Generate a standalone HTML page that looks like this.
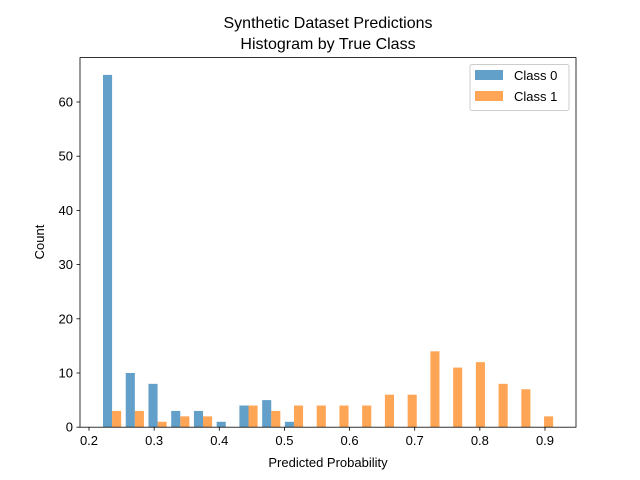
<!DOCTYPE html>
<html><head><meta charset="utf-8"><style>
body{margin:0;background:#fff;}
svg{display:block;font-family:"Liberation Sans","DejaVu Sans",sans-serif;}
</style></head><body>
<svg id="chart" width="640" height="480" viewBox="0 0 640 480">
<rect width="640" height="480" fill="#fff"/>
<text x="328" y="28" text-anchor="middle" font-size="16">Synthetic Dataset Predictions</text>
<text x="328" y="49" text-anchor="middle" font-size="16">Histogram by True Class</text>
<g id="bars"></g>
<rect x="80" y="57.6" width="496" height="369.6" fill="none" stroke="#000" stroke-width="0.8"/>
<g id="xticks"></g><g id="yticks"></g>
<text x="328" y="467" text-anchor="middle" font-size="13">Predicted Probability</text>
<text x="44" y="242" text-anchor="middle" font-size="13" transform="rotate(-90 44 242)">Count</text>
<g>
<rect x="470" y="64.5" width="99" height="46" fill="#fff" fill-opacity="0.8" stroke="#ccc" rx="2"/>
<g>
<rect x="475" y="70" width="28" height="10" fill="#1f77b4" fill-opacity="0.7"/>
<text x="514" y="80" font-size="13">Class 0</text></g>
<g>
<rect x="475" y="91" width="28" height="10" fill="#ff7f0e" fill-opacity="0.7"/>
<text x="514" y="101" font-size="13">Class 1</text></g>
</g>
</svg>
<script>
const binStart = 0.2180;
const binWidth = 0.0349;
const class0Counts = [65,10,8,3,3,1,4,5,1,0,0,0,0,0,0,0,0,0,0,0];
const class1Counts = [3,3,1,2,2,0,4,3,4,4,4,4,6,6,14,11,12,8,7,2];
const xTickLabels = ["0.2","0.3","0.4","0.5","0.6","0.7","0.8","0.9"];
const yTickLabels = ["0","10","20","30","40","50","60"];
const NS="http://www.w3.org/2000/svg";
function xs(v){return 89+(v-0.2)*651.43;}
function ys(v){return 427.2-v*5.42;}
function mk(t,a,p){const e=document.createElementNS(NS,t);for(const k in a)e.setAttribute(k,a[k]);p.appendChild(e);return e;}
const bars=document.getElementById('bars');
[class0Counts,class1Counts].forEach((arr,si)=>{
  const col=si?"#ff7f0e":"#1f77b4";
  arr.forEach((c,i)=>{
    if(!c)return;
    const s=binStart+i*binWidth;
    const x0=xs(s+binWidth*0.1+si*binWidth*0.4), x1=xs(s+binWidth*0.1+(si+1)*binWidth*0.4);
    const r=mk('rect',{x:x0,y:ys(c),width:x1-x0,height:ys(0)-ys(c),fill:col,'fill-opacity':0.7},bars);
    
    
  });
});
const xt=document.getElementById('xticks');
xTickLabels.forEach(l=>{
  const x=xs(parseFloat(l));
  mk('line',{x1:x,x2:x,y1:427.2,y2:430.7,stroke:'#000','stroke-width':0.8},xt);
  const t=mk('text',{x:x,y:445,'text-anchor':'middle','font-size':13},xt);t.textContent=l;
  
  
});
const yt=document.getElementById('yticks');
yTickLabels.forEach(l=>{
  const y=ys(parseFloat(l));
  mk('line',{x1:76.5,x2:80,y1:y,y2:y,stroke:'#000','stroke-width':0.8},yt);
  const t=mk('text',{x:73,y:y+4.5,'text-anchor':'end','font-size':13},yt);t.textContent=l;
  
  
});
</script>
</body></html>
